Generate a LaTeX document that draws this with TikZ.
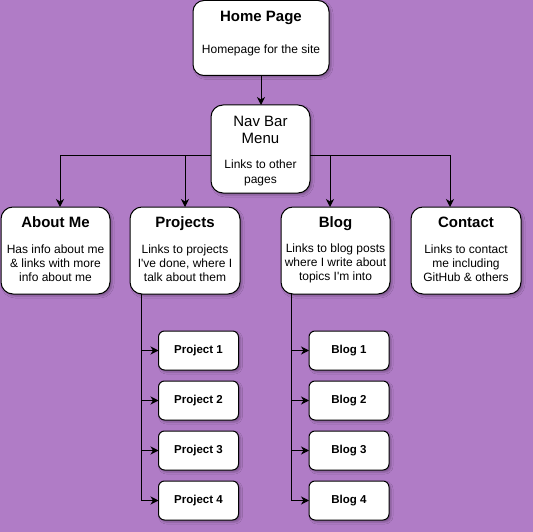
\documentclass[tikz,border=0pt]{standalone}
\usepackage{fontspec}
\setmainfont{Liberation Sans}[Ligatures=TeXOff]
\usetikzlibrary{arrows.meta,shadows.blur}
\definecolor{bgpurple}{RGB}{176,124,198}
\begin{document}
\begin{tikzpicture}[x=1pt,y=-1pt,
  boxshadow/.style={blur shadow={shadow xshift=2pt,shadow yshift=-2pt,shadow opacity=28,shadow blur radius=2pt}},
  card/.style={draw=black,fill=white,line width=1pt,inner sep=0pt,outer sep=0pt,rounded corners=12pt,boxshadow},
  pagebox/.style={card,minimum width=109pt,minimum height=87pt},
  leafbox/.style={card,rounded corners=6pt,minimum width=80pt,minimum height=39pt,
    font=\bfseries\fontsize{11.5}{13}\selectfont},
  heading/.style={font=\bfseries\fontsize{15}{17}\selectfont,inner sep=0pt,align=center,anchor=base},
  navtitle/.style={font=\fontsize{15}{17}\selectfont,inner sep=0pt,align=center},
  blurb/.style={font=\fontsize{12}{14}\selectfont,inner sep=0pt,align=center},
  arr/.style={draw=black,line width=1pt,-{Stealth[length=8pt,width=8pt,inset=2.5pt]}},
]
% canvas
\fill[bgpurple] (0,0) rectangle (533,532);
\useasboundingbox (0,0) rectangle (533,532);

% top of the site
\node[card,rounded corners=11pt,minimum width=136pt,minimum height=75pt] (home) at (261,38) {};
\node[heading] (homeT) at (261,21.5) {Home Page};
\node[blurb] (homeB) at (261,50) {Homepage for the site};

\node[card,minimum width=99pt,minimum height=88pt] (nav) at (260.5,149) {};
\node[navtitle] (navT) at (260.5,129.5) {Nav Bar\\Menu};
\node[blurb,font=\fontsize{12}{15}\selectfont] (navB) at (260.5,173) {Links to other\\pages};

% main pages
\node[pagebox] (about) at (55.5,250.5) {};
\node[heading] (aboutT) at (55.5,227.5) {About Me};
\node[blurb] (aboutB) at (55.5,263) {Has info about me\\\& links with more\\info about me};

\node[pagebox,minimum width=110pt] (projects) at (185,250.5) {};
\node[heading] (projectsT) at (185,227.5) {Projects};
\node[blurb] (projectsB) at (185,263) {Links to projects\\I've done, where I\\talk about them};

\node[pagebox] (blog) at (335.5,250.5) {};
\node[heading] (blogT) at (335.5,227.5) {Blog};
\node[blurb] (blogB) at (335.5,263) {Links to blog posts\\where I write about\\topics I'm into};

\node[pagebox,minimum width=110pt] (contact) at (466,250.5) {};
\node[heading] (contactT) at (466,227.5) {Contact};
\node[blurb] (contactB) at (466,263) {Links to contact\\me including\\GitHub \& others};

% project pages
\node[leafbox] (p1) at (198.5,350.5) {Project 1};
\node[leafbox] (p2) at (198.5,400.5) {Project 2};
\node[leafbox] (p3) at (198.5,450.5) {Project 3};
\node[leafbox] (p4) at (198.5,500.5) {Project 4};

% blog posts
\node[leafbox] (b1) at (349,350.5) {Blog 1};
\node[leafbox] (b2) at (349,400.5) {Blog 2};
\node[leafbox] (b3) at (349,450.5) {Blog 3};
\node[leafbox] (b4) at (349,500.5) {Blog 4};

% links
\draw[arr] (home.south) -- (home.south |- nav.north);
\draw[arr] ([yshift=-7pt]nav.west) -| ([xshift=4.5pt]about.north);
\draw[arr] ([yshift=-7pt]nav.west) -| (projects.north);
\draw[arr] ([yshift=-7pt]nav.east) -| ([xshift=-5.5pt]blog.north);
\draw[arr] ([yshift=-7pt]nav.east) -| ([xshift=-16pt]contact.north);

\foreach \n in {p1,p2,p3,p4}
  \draw[arr] ([xshift=11pt]projects.south west) |- (\n.west);
\foreach \n in {b1,b2,b3,b4}
  \draw[arr] ([xshift=10pt]blog.south west) |- (\n.west);
\end{tikzpicture}
\end{document}
